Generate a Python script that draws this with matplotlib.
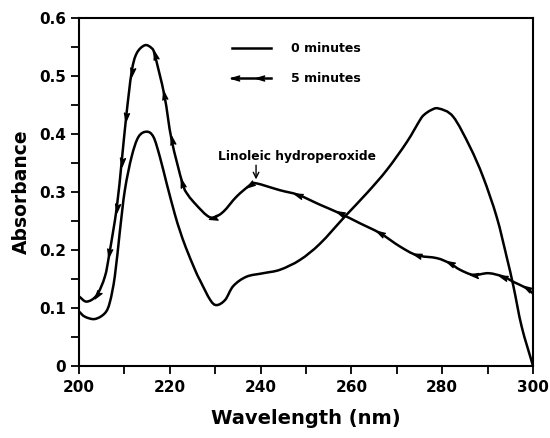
import numpy as np
import matplotlib
matplotlib.use("Agg")
import matplotlib.pyplot as plt
from matplotlib.path import Path
from matplotlib.patches import PathPatch
from matplotlib.markers import MarkerStyle
from matplotlib.transforms import Affine2D

plt.rcParams['font.family'] = ['DejaVu Sans']
plt.rcParams['font.weight'] = 'bold'

# 0 minutes (plain line)
t0_x = [200, 201.3, 203.5, 205.7, 206.8, 207.9, 209, 210.1, 211.6, 213.1, 214.9,
        216.4, 217.8, 219.3, 221.1, 222.2, 223.5, 225.6, 226.7, 228.9, 230.3, 232.2,
        234, 236.9, 240.6, 244.3, 248.7, 253.1, 258.6, 263.4, 267.8, 272.2, 275.1,
        276, 277.5, 279.2, 282.4, 286.1, 289, 292, 294.2, 295.7, 297.5, 300]
t0_y = [0.094, 0.085, 0.081, 0.091, 0.11, 0.155, 0.232, 0.303, 0.361, 0.395, 0.404,
        0.395, 0.361, 0.315, 0.262, 0.234, 0.205, 0.165, 0.147, 0.114, 0.105, 0.114,
        0.138, 0.154, 0.16, 0.166, 0.183, 0.211, 0.258, 0.298, 0.338, 0.386, 0.424,
        0.433, 0.441, 0.444, 0.43, 0.378, 0.326, 0.257, 0.188, 0.137, 0.068, 0.0]

# 5 minutes (line with arrowheads)
t5_x = [200, 201.7, 203.9, 205.7, 206.7, 208.3, 209.4, 210.4, 211.6, 212.7, 214.5,
        216, 216.7, 218.8, 220.4, 222.8, 224, 225.8, 228.1, 229.6, 231.8, 234.7, 237.7,
        239, 244.3, 248.3, 253.1, 257.5, 261.9, 266.3, 270.7, 274.4, 278.8, 281.7,
        283.9, 286.9, 290.2, 293.5, 295.7, 298.6, 300]
t5_y = [0.12, 0.111, 0.122, 0.154, 0.194, 0.272, 0.352, 0.43, 0.507, 0.539, 0.553,
        0.548, 0.536, 0.467, 0.39, 0.315, 0.295, 0.278, 0.26, 0.256, 0.266, 0.292, 0.312,
        0.315, 0.303, 0.295, 0.278, 0.263, 0.246, 0.229, 0.206, 0.191, 0.186, 0.177,
        0.166, 0.157, 0.16, 0.154, 0.145, 0.134, 0.125]
t5_marks = [203.9, 206.7, 208.3, 209.4, 210.4, 211.6, 216.7, 218.8, 220.4, 222.8,
            229.6, 237.7, 248.3, 257.5, 266.3, 274.4, 281.7, 286.9, 293.5, 298.6]

x_ticks = [200, 220, 240, 260, 280, 300]
y_ticks = [0, 0.1, 0.2, 0.3, 0.4, 0.5, 0.6]
y_labels = ['0', '0.1', '0.2', '0.3', '0.4', '0.5', '0.6']


def smooth_path(xs, ys):
    # Catmull-Rom through the points, drawn as cubic Bezier segments
    p = np.column_stack([xs, ys]).astype(float)
    ext = np.vstack([2 * p[0] - p[1], p, 2 * p[-1] - p[-2]])
    verts = [p[0]]
    codes = [Path.MOVETO]
    for i in range(1, len(ext) - 2):
        p0, p1, p2, p3 = ext[i - 1], ext[i], ext[i + 1], ext[i + 2]
        verts += [p1 + (p2 - p0) / 6, p2 - (p3 - p1) / 6, p2]
        codes += [Path.CURVE4] * 3
    return Path(verts, codes)


# arrowhead pointing to +x, rotated per point
head = Path([(1.0, 0), (-1.0, 0.6), (-0.6, 0), (-1.0, -0.6), (1.0, 0)],
            [Path.MOVETO, Path.LINETO, Path.LINETO, Path.LINETO, Path.CLOSEPOLY])

def arrow_marker(angle):
    return MarkerStyle(head, transform=Affine2D().rotate_deg(angle))

fig = plt.figure(figsize=(5.5, 4.38), dpi=100)
ax = fig.add_axes([0.1436, 0.1644, 0.8255, 0.7945])
ax.set_xlim(200, 300)
ax.set_ylim(0, 0.6)

lw = 1.8
for xs, ys in [(t0_x, t0_y), (t5_x, t5_y)]:
    ax.add_patch(PathPatch(smooth_path(xs, ys), facecolor='none', edgecolor='black',
                           lw=lw, capstyle='round', joinstyle='round'))

# arrowheads oriented along the curve toward shorter wavelength
pts = ax.transData.transform(np.column_stack([t5_x, t5_y]))
for mx in t5_marks:
    i = t5_x.index(mx)
    a = pts[max(i - 1, 0)]
    b = pts[min(i + 1, len(t5_x) - 1)]
    ang = np.degrees(np.arctan2(a[1] - b[1], a[0] - b[0]))
    ax.plot([mx], [t5_y[i]], marker=arrow_marker(ang), color='black',
            markersize=6, linestyle='none')

# legend drawn by hand
tr = ax.transAxes
ax.plot([0.336, 0.424], [0.913, 0.913], color='black', lw=lw, transform=tr)
ax.text(0.466, 0.913, '0 minutes', transform=tr, va='center', ha='left', fontsize=9)
ax.plot([0.336, 0.424], [0.827, 0.827], color='black', lw=lw, transform=tr)
for lx in [0.343, 0.398]:
    ax.plot([lx], [0.827], marker=arrow_marker(180), color='black', markersize=6,
            linestyle='none', transform=tr)
ax.text(0.466, 0.827, '5 minutes', transform=tr, va='center', ha='left', fontsize=9)

ax.text(230.6, 0.362, 'Linoleic hydroperoxide', fontsize=8.8, va='center', ha='left')
ax.annotate('', xy=(239, 0.317), xytext=(239, 0.351),
            arrowprops=dict(arrowstyle='->', lw=1, color='black'))

ax.set_xticks(x_ticks)
ax.set_xticks(np.arange(200, 301, 10), minor=True)
ax.set_yticks(y_ticks)
ax.set_yticklabels(y_labels)
ax.set_yticks(np.arange(0, 0.601, 0.05), minor=True)
ax.tick_params(which='both', direction='out', length=6, width=1.3, labelsize=11)
ax.tick_params(axis='x', pad=4)
for s in ax.spines.values():
    s.set_linewidth(1.5)

ax.set_xlabel('Wavelength (nm)', fontsize=14, fontweight='bold', labelpad=10)
ax.set_ylabel('Absorbance', fontsize=13.5, fontweight='bold', labelpad=6)

fig.savefig('out.png', dpi=100)
